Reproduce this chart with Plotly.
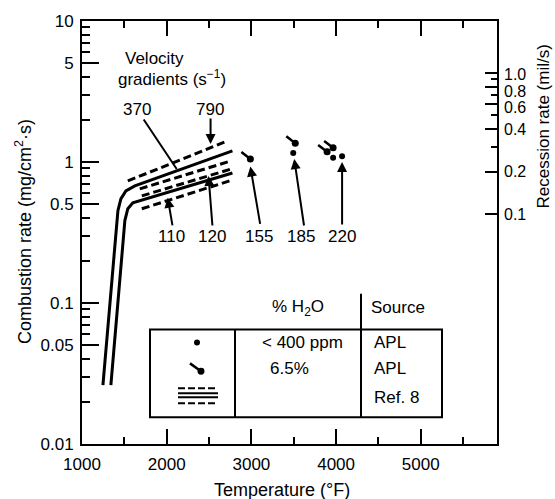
import numpy as np
import plotly.graph_objects as go

# ---------------- data ----------------
# Ref. 8 curves: temperature (°F) and combustion rate (mg/cm^2-s)
solid_upper_T = [1247, 1365, 1400, 1424, 1459, 1518, 1624, 2776]
solid_upper_v = [0.0262, 0.170, 0.326, 0.451, 0.548, 0.624, 0.677, 1.20]
solid_lower_T = [1341, 1459, 1482, 1506, 1541, 1600, 2776]
solid_lower_v = [0.0262, 0.170, 0.277, 0.384, 0.466, 0.514, 0.836]
dash_790_T = [1541, 2718]
dash_790_v = [0.734, 1.41]
dash_370_T = [1682, 2765]
dash_370_v = [0.645, 1.02]
dash_120_T = [1706, 2765]
dash_120_v = [0.575, 0.893]
dash_110_T = [1706, 2741]
dash_110_v = [0.466, 0.734]

# APL points
apl_dry_T = [3494, 3965, 4071]          # < 400 ppm H2O
apl_dry_v = [1.16, 1.07, 1.10]
apl_wet_T = [2988, 3518, 3894, 3965]    # 6.5% H2O
apl_wet_v = [1.05, 1.36, 1.18, 1.26]

# axis ticks
x_ticks = [1000, 2000, 3000, 4000, 5000]
x_minor = [1500, 2500, 3500, 4500, 5500]
y_ticks = [0.01, 0.05, 0.1, 0.5, 1, 5, 10]
y_ticktext = ["0.01", "0.05", "0.1", "0.5", "1", "5", "10"]
y2_ticks = [0.1, 0.2, 0.4, 0.6, 0.8, 1.0]
y2_ticktext = ["0.1", "0.2", "0.4", "0.6", "0.8", "1.0"]
y2_minor = [0.3, 0.5, 0.7, 0.9]

FONT = "Liberation Sans, Arial, Helvetica, sans-serif"
FS = 17

# ---------------- layout geometry ----------------
W, H = 555, 499
L, R, T, B = 82, 58, 19, 55
PW, PH = W - L - R, H - T - B


def paper(xp, yp):
    return (xp - L) / PW, (H - B - yp) / PH


fig = go.Figure()

# Ref. 8 curves
for tx, vy in [(solid_upper_T, solid_upper_v), (solid_lower_T, solid_lower_v)]:
    fig.add_trace(go.Scatter(x=tx, y=vy, mode="lines",
                             line=dict(color="black", width=3), showlegend=False,
                             hoverinfo="skip"))
for tx, vy in [(dash_790_T, dash_790_v), (dash_370_T, dash_370_v),
               (dash_120_T, dash_120_v), (dash_110_T, dash_110_v)]:
    fig.add_trace(go.Scatter(x=tx, y=vy, mode="lines",
                             line=dict(color="black", width=3, dash="8px,4px"),
                             showlegend=False, hoverinfo="skip"))

# APL wet points: tails (up-left) + blob
tail_dT = 106
tail_f = 1.12
tx, ty = [], []
for t_, v_ in zip(apl_wet_T, apl_wet_v):
    tx += [t_ - tail_dT, t_, None]
    ty += [v_ * tail_f, v_, None]
fig.add_trace(go.Scatter(x=tx, y=ty, mode="lines",
                         line=dict(color="black", width=2.5), showlegend=False,
                         hoverinfo="skip"))
fig.add_trace(go.Scatter(x=apl_wet_T, y=apl_wet_v, mode="markers",
                         marker=dict(color="black", size=7, symbol="circle"),
                         showlegend=False))
fig.add_trace(go.Scatter(x=apl_dry_T, y=apl_dry_v, mode="markers",
                         marker=dict(color="black", size=6, symbol="circle"),
                         showlegend=False))

# invisible trace on secondary axis so it renders
fig.add_trace(go.Scatter(x=[None], y=[None], yaxis="y2", showlegend=False))

axis_common = dict(showgrid=False, zeroline=False, showline=True, linecolor="black",
                   linewidth=2, ticks="inside", tickcolor="black", tickwidth=2,
                   tickfont=dict(family=FONT, size=FS, color="black"))

Y2_RANGE = [-2.631, 0.369]

fig.update_layout(
    width=W, height=H, autosize=False,
    margin=dict(l=L, r=R, t=T, b=B, pad=0),
    paper_bgcolor="white", plot_bgcolor="white",
    font=dict(family=FONT, size=FS, color="black"),
    showlegend=False,
    xaxis=dict(**axis_common, range=[1000, 5900], tickmode="array",
               tickvals=x_ticks, ticklen=15, mirror="ticks",
               minor=dict(tickvals=x_minor, ticks="inside", ticklen=7,
                          tickwidth=2, tickcolor="black", showgrid=False),
               ticklabelstandoff=4),
    yaxis=dict(**axis_common, type="log", range=[-2, 1], tickmode="array",
               tickvals=y_ticks, ticktext=y_ticktext, ticklen=17,
               minor=dict(tickvals=[m * 10 ** e for e in (-2, -1, 0) for m in range(2, 10)],
                          ticks="inside", ticklen=8, tickwidth=2,
                          tickcolor="black", showgrid=False),
               ticklabelstandoff=3),
    yaxis2=dict(**axis_common, type="log", overlaying="y", side="right",
                anchor="x", range=Y2_RANGE, tickmode="array",
                tickvals=y2_ticks, ticklen=12, showticklabels=False,
                minor=dict(tickvals=y2_minor, ticks="inside", ticklen=6,
                           tickwidth=2, tickcolor="black", showgrid=False)),
)

ann = []


def label(text, xp, yp, xanchor="center", size=FS, angle=0):
    px_, py_ = paper(xp, yp)
    ann.append(dict(text=text, x=px_, y=py_, xref="paper", yref="paper",
                    xanchor=xanchor, yanchor="middle", showarrow=False,
                    textangle=angle, font=dict(family=FONT, size=size, color="black")))


# axis titles
label("Temperature (°F)", 282, 490, size=18)
label("Combustion rate (mg/cm<sup>2</sup>·s)", 23, 231, size=18, angle=-90)
label("Recession rate (mil/s)", 544, 125, size=17, angle=-90)

# right-axis tick labels (spread apart slightly, as in the original)
y2_label_shift = [0, 0, 0, 3, 5, 1]   # pixel nudges for the crowded top labels
for val, txt, sh in zip(y2_ticks, y2_ticktext, y2_label_shift):
    frac = (np.log10(val) - Y2_RANGE[0]) / (Y2_RANGE[1] - Y2_RANGE[0])
    yp = H - B - frac * PH + sh
    label(txt, 502, yp, xanchor="left", size=16)

# velocity gradient labels
label("Velocity", 154, 57)
label("gradients (s<sup>−1</sup>)", 172, 76)
grad_labels = ["370", "790", "110", "120", "155", "185", "220"]
grad_label_px = [(137, 108), (210, 108), (171, 236), (212, 236), (259, 236), (301, 236), (342, 236)]
for t_, (xp, yp) in zip(grad_labels, grad_label_px):
    label(t_, xp, yp)

# arrows: tip in data coords, tail offset in pixels
arrows = [
    (2118, 0.892, -34, -51, 0),   # 370
    (2518, 1.34, 0, -27, 2),      # 790
    (2012, 0.557, 5, 29, 2),      # 110
    (2494, 0.796, 4, 51, 2),      # 120
    (apl_wet_T[0], 0.93, 10, 59, 2),   # 155
    (apl_dry_T[0] + 12, 1.05, 10, 68, 2),  # 185
    (apl_dry_T[2], 1.0, 0, 64, 2),     # 220
]
for xt, vt, dx, dy, head in arrows:
    ann.append(dict(x=xt, y=np.log10(vt), xref="x", yref="y", text="",
                    showarrow=True, ax=dx, ay=dy, arrowhead=head, arrowsize=1,
                    arrowwidth=2, arrowcolor="black", standoff=0, startstandoff=0))

# table texts
label("% H<sub>2</sub>O", 298, 307)
label("Source", 398, 307)
label("&lt; 400 ppm", 302, 342)
label("6.5%", 289, 368)
label("APL", 372, 342, xanchor="left")
label("APL", 372, 368, xanchor="left")
label("Ref. 8", 372, 397, xanchor="left")

fig.update_layout(annotations=ann)

# table shapes
shapes = []


def pline(x0, y0, x1, y1, width=2, dash=None):
    a0, b0 = paper(x0, y0)
    a1, b1 = paper(x1, y1)
    d = dict(type="line", xref="paper", yref="paper", x0=a0, y0=b0, x1=a1, y1=b1,
             line=dict(color="black", width=width))
    if dash:
        d["line"]["dash"] = dash
    shapes.append(d)


def pcircle(xc, yc, r):
    a0, b0 = paper(xc - r, yc + r)
    a1, b1 = paper(xc + r, yc - r)
    shapes.append(dict(type="circle", xref="paper", yref="paper", x0=a0, y0=b0,
                       x1=a1, y1=b1, fillcolor="black", line=dict(color="black", width=0)))


a0, b0 = paper(150, 417)
a1, b1 = paper(442, 329)
shapes.append(dict(type="rect", xref="paper", yref="paper", x0=a0, y0=b0, x1=a1, y1=b1,
                   line=dict(color="black", width=2), fillcolor="rgba(0,0,0,0)"))
pline(235, 329, 235, 417)
pline(361, 293, 361, 417)
pcircle(197, 342, 3)
pline(190, 363, 201, 371, width=2.5)
pcircle(201, 371, 3.5)
pline(178, 388, 218, 388, dash="7px,3px")
pline(178, 393, 218, 393)
pline(178, 397, 218, 397)
pline(178, 403, 218, 403, dash="7px,3px")

fig.update_layout(shapes=shapes)

fig.write_html("out.html")
